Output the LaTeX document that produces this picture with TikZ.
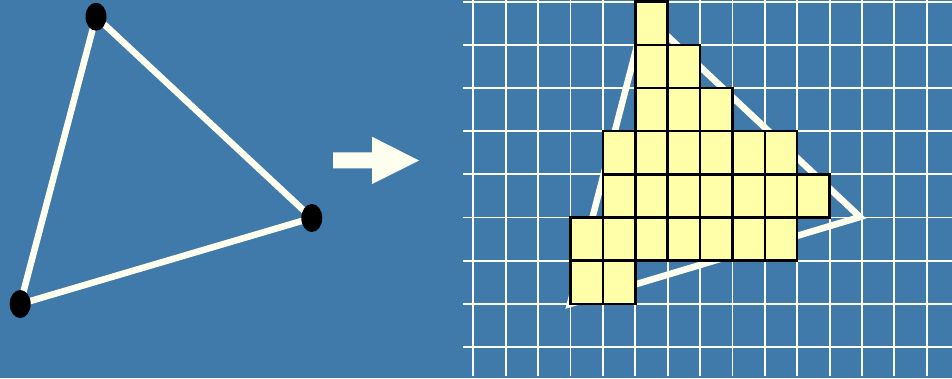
\documentclass[tikz,border=0pt]{standalone}
\usepackage{tikz}
\definecolor{bg}{RGB}{64,122,170}
\definecolor{cream}{RGB}{255,255,240}
\definecolor{pale}{RGB}{255,255,170}

\begin{document}
\begin{tikzpicture}[x=1pt,y=-1pt,
  edge/.style={cream,line width=6.5pt},
  vdot/.style={fill=black},
  gline/.style={cream,line width=1.8pt},
  cell/.style={fill=pale,draw=black,line width=2.5pt}]
\fill[bg] (0,0) rectangle (952,378);
\useasboundingbox (0,0) rectangle (952,378);
% triangle
\coordinate (A1) at (96,16.7);
\coordinate (B1) at (311.8,218);
\coordinate (C1) at (20.2,304);
\draw[edge,line join=round] (A1)--(B1)--(C1)--cycle;
\fill[vdot] (A1) ellipse [x radius=10.5,y radius=14];
\fill[vdot] (B1) ellipse [x radius=10.5,y radius=14];
\fill[vdot] (C1) ellipse [x radius=10.5,y radius=14];
% arrow
\coordinate (P1) at (333,152.3);
\coordinate (P2) at (372,136.7);
\coordinate (P3) at (419,160.5);
\fill[cream] (P1)--(372,152.3)--(P2)--(P3)--(372,184)--(372,168.3)--(333,168.3)--cycle;
% grid
\foreach \k in {0,...,14}
  \draw[gline] (473.3+32.39*\k,0)--(473.3+32.39*\k,376);
\foreach \j in {0,...,8}
  \draw[gline] (463,1.7+43.15*\j)--(952,1.7+43.15*\j);
% triangle on the grid
\coordinate (A2) at (645,15);
\coordinate (B2) at (860,217);
\coordinate (C2) at (570,304);
\draw[edge,line join=miter] (A2)--(B2)--(C2)--cycle;
% covered pixels
\foreach \r/\a/\b in {0/5/5,1/5/6,2/5/7,3/4/9,4/4/10,5/3/9,6/3/4}
  \foreach \c in {\a,...,\b}
    \draw[cell] (473.3+32.39*\c,1.7+43.15*\r) rectangle ++(32.39,43.15);
%\draw[red] (A2) circle (2);
\end{tikzpicture}
\end{document}
